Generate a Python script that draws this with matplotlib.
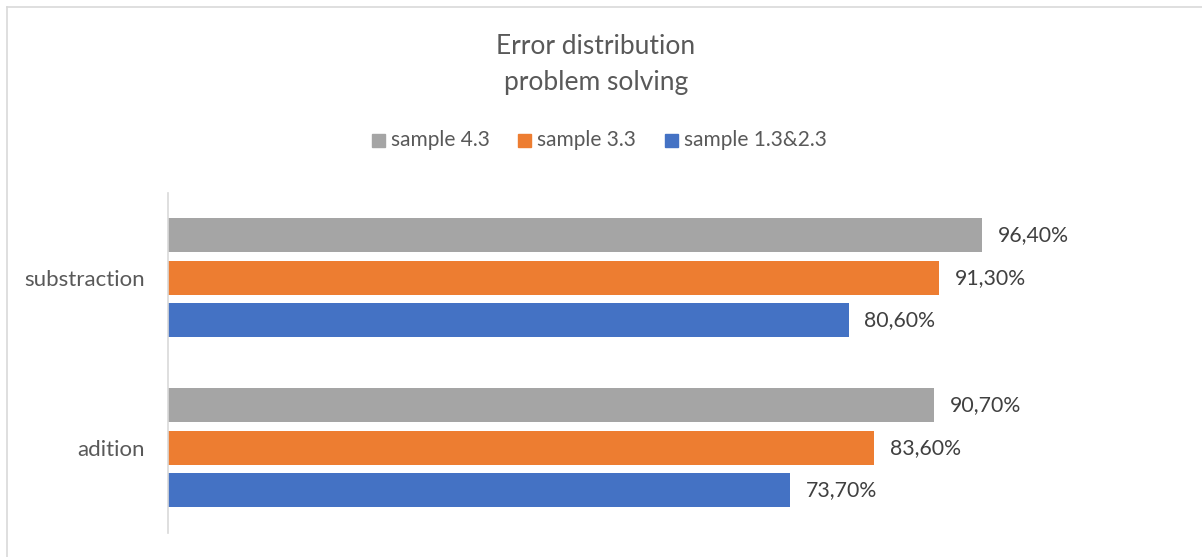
import matplotlib
matplotlib.use("Agg")
import matplotlib.pyplot as plt
from matplotlib.lines import Line2D
from matplotlib.patches import Rectangle

categories = ["adition", "substraction"]
series_names = ["sample 4.3", "sample 3.3", "sample 1.3&2.3"]
sample_43 = [0.907, 0.964]
sample_33 = [0.836, 0.913]
sample_13_23 = [0.737, 0.806]
colors = ["#a5a5a5", "#ed7d31", "#4472c4"]

plt.rcParams['font.family'] = ['Lato', 'DejaVu Sans']

fig = plt.figure(figsize=(12.02, 5.57), dpi=100)
W, H = 1202, 557
ax = fig.add_axes([168 / W, 24.3 / H, 1013.3 / W, 340 / H])

ys = list(range(len(categories)))
offsets = [0.25, 0.0, -0.25]
for name, vals, col, off in zip(series_names, [sample_43, sample_33, sample_13_23], colors, offsets):
    pos = [y + off for y in ys]
    bars = ax.barh(pos, vals, height=0.2, color=col, label=name)
    for p, v in zip(pos, vals):
        ax.text(v + 0.0185, p, f"{v * 100:.2f}%".replace(".", ","),
                va="center", ha="left", fontsize=15.3, color="#404040")

ax.set_xlim(0, 1.2)
ax.set_ylim(-0.5, 1.5)
ax.set_yticks(ys)
ax.set_yticklabels(categories, fontsize=16, color="#595959")
ax.tick_params(axis="y", length=0, pad=16.5)
ax.set_xticks([])
for s in ["top", "right", "bottom"]:
    ax.spines[s].set_visible(False)
ax.spines["left"].set_color("#d9d9d9")
ax.spines["left"].set_linewidth(1.2)

fig.text(596 / W, 1 - 46 / H, "Error distribution", ha="center", va="center",
         fontsize=19, color="#595959")
fig.text(596 / W, 1 - 82 / H, "problem solving", ha="center", va="center",
         fontsize=19, color="#595959")

# legend
leg_items = [(372, "sample 4.3"), (518, "sample 3.3"), (665, "sample 1.3&2.3")]
for (x0, label), col in zip(leg_items, colors):
    fig.patches.append(Rectangle((x0 / W, 1 - 147 / H), 13 / W, 13 / H,
                                 transform=fig.transFigure, color=col))
    fig.text((x0 + 19) / W, 1 - 140 / H, label, ha="left", va="center",
             fontsize=15, color="#595959")

# chart border
fig.lines.append(Line2D([6.5 / W, 1], [1 - 6.5 / H, 1 - 6.5 / H], transform=fig.transFigure,
                        color="#d9d9d9", lw=1.2))
fig.lines.append(Line2D([6.5 / W, 6.5 / W], [0, 1 - 6.5 / H], transform=fig.transFigure,
                        color="#d9d9d9", lw=1.2))

fig.savefig("out.png", dpi=100, facecolor="white")
